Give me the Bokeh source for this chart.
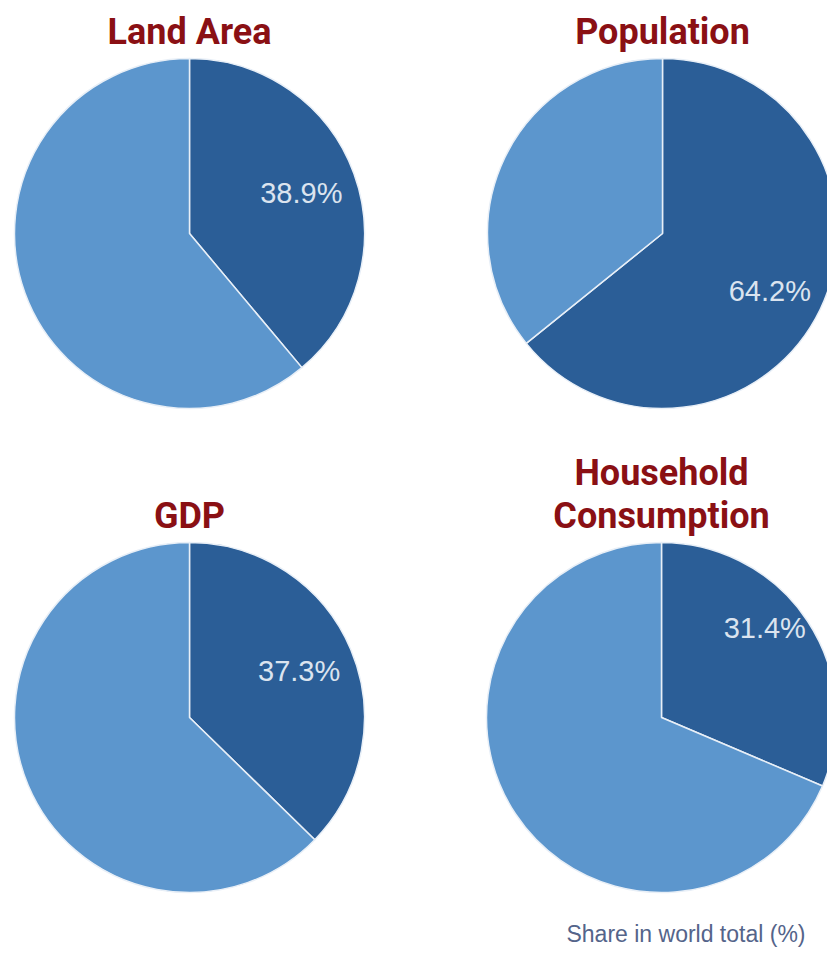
import math
from bokeh.plotting import figure
from bokeh.models import Range1d, ColumnDataSource
from bokeh.core.properties import value
from bokeh.embed import file_html
from bokeh.resources import INLINE

# ---- data ----
titles = [["Land Area"], ["Population"], ["GDP"], ["Household", "Consumption"]]
shares = [38.9, 64.2, 37.3, 31.4]
labels = ["38.9%", "64.2%", "37.3%", "31.4%"]
footnote = "Share in world total (%)"

# ---- layout (image pixel coordinates, y down) ----
W, H = 827, 954
centers_img = [(189, 233), (662, 233), (189, 717), (661, 717)]
label_nudge = [(0, 0), (0, -6), (0, 0), (4, 24)]
R = 175
DARK = "#2b5e97"
LIGHT = "#5c96cd"
LABEL_C = "#dbe4ef"
TITLE_C = "#8a1014"

def fx(x):
    return x

def fy(y):
    return H - y

p = figure(width=W, height=H, output_backend="svg", toolbar_location=None,
           x_range=Range1d(0, W), y_range=Range1d(0, H), min_border=0)
p.axis.visible = False
p.grid.visible = False
p.outline_line_color = None
p.background_fill_color = "white"

xs, ys, starts, ends, colors = [], [], [], [], []
lx, ly = [], []
for (cx, cy), s, (nx, ny) in zip(centers_img, shares, label_nudge):
    f = s / 100.0
    a0 = math.pi / 2
    a1 = math.pi / 2 - 2 * math.pi * f
    a2 = math.pi / 2 - 2 * math.pi
    xs += [fx(cx), fx(cx)]
    ys += [fy(cy), fy(cy)]
    starts += [a0, a1]
    ends += [a1, a2]
    colors += [DARK, LIGHT]
    mid = (a0 + a1) / 2
    lx.append(fx(cx) + 0.68 * R * math.cos(mid) + nx)
    ly.append(fy(cy) + 0.68 * R * math.sin(mid) + ny)

src = ColumnDataSource(dict(x=xs, y=ys, start=starts, end=ends, color=colors))
p.wedge(x="x", y="y", radius=R, start_angle="start", end_angle="end",
        direction="clock", fill_color="color", line_color="#e8eff7",
        line_width=1.5, source=src)

p.text(x=lx, y=ly, text=labels, text_color=LABEL_C, text_font=value("Liberation Sans"),
       text_font_size="29px", text_align="center", text_baseline="middle")

# titles
tx, ty, tt = [], [], []
for (cx, cy), lines in zip(centers_img, titles):
    n = len(lines)
    for i, line in enumerate(lines):
        base = cy - 202 - (n - 1 - i) * 43
        tx.append(fx(cx))
        ty.append(fy(base))
        tt.append(line)
p.text(x=tx, y=ty, text=tt, text_color=TITLE_C, text_font=value("Roboto"),
       text_font_style="bold", text_font_size="36px", text_align="center",
       text_baseline="alphabetic")

p.text(x=[fx(805)], y=[fy(933)], text=[footnote], text_color="#54648a",
       text_font=value("Liberation Sans"), text_font_size="23px",
       text_align="right", text_baseline="alphabetic")

open("out.html", "w").write(file_html(p, INLINE))
